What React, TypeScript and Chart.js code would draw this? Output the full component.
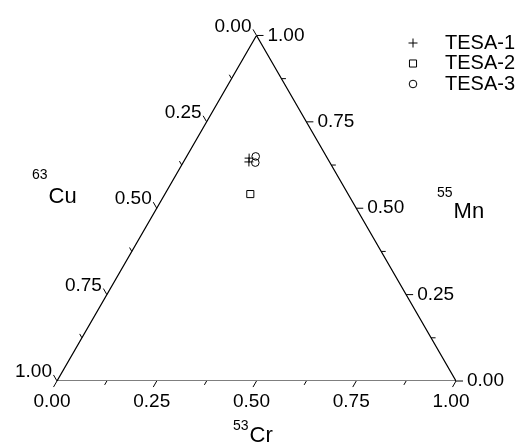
import React, { useEffect, useRef } from "react";
import { Chart, registerables } from "chart.js";

Chart.register(...registerables);

// ---- data (ternary fractions: Cr, Mn, Cu) ----
const SERIES = ["TESA-1", "TESA-2", "TESA-3"];
const TESA1_CR = [0.159, 0.164];
const TESA1_MN = [0.645, 0.634];
const TESA1_CU = [0.196, 0.202];
const TESA2_CR = [0.214];
const TESA2_MN = [0.541];
const TESA2_CU = [0.245];
const TESA3_CR = [0.173, 0.181];
const TESA3_MN = [0.650, 0.632];
const TESA3_CU = [0.177, 0.187];

const TICK_VALUES = [0, 0.125, 0.25, 0.375, 0.5, 0.625, 0.75, 0.875, 1];
const LABEL_VALUES = [0, 0.25, 0.5, 0.75, 1];
const TITLE_CU = ["63", "Cu"];
const TITLE_MN = ["55", "Mn"];
const TITLE_CR = ["53", "Cr"];

const H = Math.sqrt(3) / 2;
const FONT = "Liberation Sans, Arial, sans-serif";

// Cartesian position of a ternary point (normalised so Cr + Mn + Cu = 1)
const toXY = (cr: number, mn: number) => ({ x: cr + mn / 2, y: mn * H });
const build = (cr: number[], mn: number[], cu: number[]) =>
  cr.map((c, i) => {
    const s = c + mn[i] + cu[i];
    return toXY(c / s, mn[i] / s);
  });

function marker(ctx: CanvasRenderingContext2D, style: string, r: number, x: number, y: number) {
  ctx.beginPath();
  if (style === "cross") {
    ctx.moveTo(x - r, y);
    ctx.lineTo(x + r, y);
    ctx.moveTo(x, y - r);
    ctx.lineTo(x, y + r);
  } else if (style === "rect") {
    const s = r * Math.SQRT1_2;
    ctx.rect(x - s, y - s, 2 * s, 2 * s);
  } else {
    ctx.arc(x, y, r, 0, Math.PI * 2);
  }
  ctx.stroke();
}

const ternaryPlugin = {
  id: "ternaryAxes",
  afterDatasetsDraw(chart: any) {
    const { ctx, scales } = chart;
    const xs = scales.x;
    const ys = scales.y;
    const px = (cr: number, mn: number) => {
      const p = toXY(cr, mn);
      return [xs.getPixelForValue(p.x), ys.getPixelForValue(p.y)];
    };
    const len = (v: number) => (LABEL_VALUES.includes(v) ? 7 : 4.5);
    ctx.save();
    ctx.strokeStyle = "#000";
    ctx.lineWidth = 1;
    ctx.fillStyle = "#000";
    // bottom axis: Cr (Mn = 0), ticks down-left
    TICK_VALUES.forEach((v) => {
      const [x, y] = px(v, 0);
      const TL = len(v);
      ctx.beginPath();
      ctx.moveTo(x, y);
      ctx.lineTo(x - TL * 0.5, y + TL * H);
      ctx.stroke();
    });
    // left axis: Cu (Cr = 0), Mn = 1 - Cu, ticks up-left
    TICK_VALUES.forEach((v) => {
      const [x, y] = px(0, 1 - v);
      const TL = len(v);
      ctx.beginPath();
      ctx.moveTo(x, y);
      ctx.lineTo(x - TL * 0.5, y - TL * H);
      ctx.stroke();
    });
    // right axis: Mn (Cu = 0), ticks right
    TICK_VALUES.forEach((v) => {
      const [x, y] = px(1 - v, v);
      const TL = len(v);
      ctx.beginPath();
      ctx.moveTo(x, y);
      ctx.lineTo(x + TL, y);
      ctx.stroke();
    });

    ctx.font = `19px ${FONT}`;
    ctx.textBaseline = "middle";
    LABEL_VALUES.forEach((v) => {
      const t = v.toFixed(2);
      let [x, y] = px(v, 0);
      ctx.textAlign = "center";
      ctx.fillText(t, x - 5, y + 21);
      [x, y] = px(0, 1 - v);
      ctx.textAlign = "right";
      ctx.fillText(t, x - 5, y - 9);
      [x, y] = px(1 - v, v);
      ctx.textAlign = "left";
      ctx.fillText(t, x + 11, y);
    });

    // axis titles
    ctx.textAlign = "left";
    const title = (sup: string, main: string, x: number, y: number, dy: number) => {
      ctx.font = `14px ${FONT}`;
      ctx.fillText(sup, x, y - dy);
      const w = ctx.measureText(sup).width;
      ctx.font = `22px ${FONT}`;
      ctx.fillText(main, x + w + 1, y);
    };
    title(TITLE_CU[0], TITLE_CU[1], 32, 197, 22);
    title(TITLE_MN[0], TITLE_MN[1], 437, 212, 19);
    title(TITLE_CR[0], TITLE_CR[1], 233, 436, 10);

    // legend
    const styles = ["cross", "rect", "circle"];
    const radii = [4.5, 5, 3.8];
    ctx.font = `20px ${FONT}`;
    SERIES.forEach((name, i) => {
      const y = 43 + i * 20.5;
      marker(ctx, styles[i], radii[i], 413, y);
      ctx.fillText(name, 445, y);
    });
    ctx.restore();
  },
};

export default function App() {
  const ref = useRef<HTMLCanvasElement>(null);
  useEffect(() => {
    const canvas = ref.current;
    if (!canvas) return;
    const tri = [toXY(0, 0), toXY(1, 0), toXY(0, 1), toXY(0, 0)];
    const chart = new Chart(canvas, {
      type: "scatter",
      data: {
        datasets: [
          {
            label: "frame",
            data: tri,
            showLine: true,
            borderColor: "#000",
            borderWidth: 1.2,
            pointRadius: 0,
            fill: false,
          },
          {
            label: SERIES[0],
            data: build(TESA1_CR, TESA1_MN, TESA1_CU),
            pointStyle: "cross",
            pointRadius: 4.5,
            borderColor: "#000",
            borderWidth: 1,
            backgroundColor: "transparent",
          },
          {
            label: SERIES[1],
            data: build(TESA2_CR, TESA2_MN, TESA2_CU),
            pointStyle: "rect",
            pointRadius: 5,
            borderColor: "#000",
            borderWidth: 1,
            backgroundColor: "transparent",
          },
          {
            label: SERIES[2],
            data: build(TESA3_CR, TESA3_MN, TESA3_CU),
            pointStyle: "circle",
            pointRadius: 3.8,
            borderColor: "#000",
            borderWidth: 1,
            backgroundColor: "transparent",
          },
        ],
      },
      options: {
        animation: false,
        responsive: false,
        devicePixelRatio: 1,
        layout: { padding: { left: 57, right: 72, top: 446 - 65 - 399 * H, bottom: 65 } },
        scales: {
          x: { type: "linear", min: 0, max: 1, display: false },
          y: { type: "linear", min: 0, max: H, display: false },
        },
        plugins: { legend: { display: false }, tooltip: { enabled: false } },
      },
      plugins: [ternaryPlugin],
    } as any);
    return () => chart.destroy();
  }, []);
  return (
    <div style={{ position: "fixed", left: 0, top: 0, width: 528, height: 446, background: "#fff" }}>
      <canvas ref={ref} width={528} height={446} style={{ display: "block" }} />
    </div>
  );
}
